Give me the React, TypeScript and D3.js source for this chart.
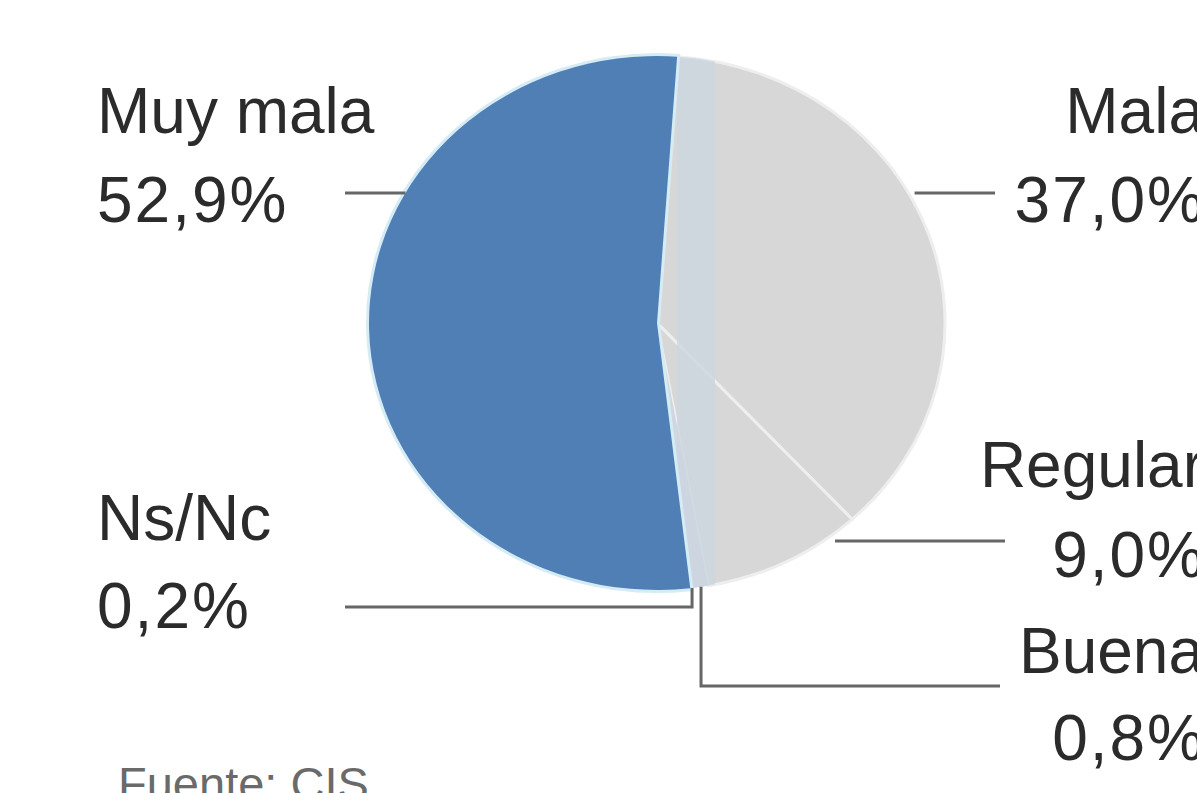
import React from "react";
import * as d3 from "d3";

const categories = ["Mala", "Regular", "Buena", "Ns/Nc", "Muy mala"];
const values = [37.0, 9.0, 0.8, 0.2, 52.9];
const valueLabels = ["37,0%", "9,0%", "0,8%", "0,2%", "52,9%"];
const colors = ["#d7d7d7", "#d7d7d7", "#cfd8e0", "#cfd8e0", "#4f7fb4"];
const source = "Fuente: CIS";

const W = 1197;
const H = 793;
const cx = 657;
const cy = 323;
const rx = 288;
const ry = 267;
const startDeg = 4;

export default function App() {
  const pie = d3
    .pie<number>()
    .sort(null)
    .value((d) => d)
    .startAngle((startDeg * Math.PI) / 180)
    .endAngle((startDeg * Math.PI) / 180 + 2 * Math.PI);
  const arcs = pie(values);
  const arcGen = d3.arc<d3.PieArcDatum<number>>().innerRadius(0).outerRadius(ry);
  const sx = rx / ry;

  const edgeAt = (a: number, k = 1) => [cx + rx * k * Math.sin(a), cy - ry * k * Math.cos(a)];
  const edgeX = (y: number, side: number) =>
    cx + side * rx * Math.sqrt(Math.max(0, 1 - ((y - cy) / ry) ** 2));

  const mid = (i: number) => (arcs[i].startAngle + arcs[i].endAngle) / 2;
  const [buenaX, buenaY] = edgeAt(mid(2));
  const [nsX, nsY] = edgeAt(mid(3));

  const textStyle: React.CSSProperties = {
    fontFamily: "'Liberation Sans', Arial, sans-serif",
    fontSize: 64,
    fill: "#2b2b2b",
  };
  const numStyle: React.CSSProperties = { letterSpacing: 2 };
  const lineColor = "#666";
  const bandX = edgeAt(arcs[0].startAngle)[0];

  return (
    <svg
      width={W}
      height={H}
      style={{ position: "absolute", left: 0, top: 0, background: "#fff" }}
    >
      <defs>
        <clipPath id="pieClip">
          <ellipse cx={cx} cy={cy} rx={rx} ry={ry} />
        </clipPath>
      </defs>
      <g transform={`translate(${cx},${cy}) scale(${sx},1)`}>
        {arcs.map((a, i) => (
          <path
            key={categories[i]}
            d={arcGen(a) || ""}
            fill={colors[i]}
            stroke={i === 0 || i === 1 ? "#eeeeee" : "none"}
            strokeWidth={3}
            vectorEffect="non-scaling-stroke"
          />
        ))}
      </g>
      <g clipPath="url(#pieClip)">
        <rect x={bandX} y={cy - ry} width={715 - bandX} height={2 * ry} fill="#cdd6df" opacity={0.85} />
      </g>
      <g transform={`translate(${cx},${cy}) scale(${sx},1)`}>
        <path
          d={arcGen(arcs[4]) || ""}
          fill={colors[4]}
          stroke="#d6ecf5"
          strokeWidth={6}
          vectorEffect="non-scaling-stroke"
        />
        <path d={arcGen(arcs[4]) || ""} fill={colors[4]} stroke="none" />
      </g>

      <g stroke={lineColor} strokeWidth={3} fill="none">
        <line x1={345} y1={193} x2={edgeX(193, -1)} y2={193} />
        <line x1={edgeX(193, 1) + 6} y1={193} x2={995} y2={193} />
        <line x1={835} y1={541} x2={1005} y2={541} />
        <polyline points={`${nsX},${nsY} ${nsX},607 345,607`} />
        <polyline points={`${buenaX},${buenaY} ${buenaX},686 1000,686`} />
      </g>

      <g style={textStyle}>
        <text x={97} y={133}>{categories[4]}</text>
        <text x={97} y={222} style={numStyle}>{valueLabels[4]}</text>
        <text x={97} y={540}>{categories[3]}</text>
        <text x={97} y={628} style={numStyle}>{valueLabels[3]}</text>
        <text x={1204} y={133} textAnchor="end">{categories[0]}</text>
        <text x={1206} y={222} textAnchor="end" style={numStyle}>{valueLabels[0]}</text>
        <text x={1204} y={487} textAnchor="end">{categories[1]}</text>
        <text x={1206} y={577} textAnchor="end" style={numStyle}>{valueLabels[1]}</text>
        <text x={1204} y={673} textAnchor="end">{categories[2]}</text>
        <text x={1206} y={760} textAnchor="end" style={numStyle}>{valueLabels[2]}</text>
      </g>
      <text
        x={118}
        y={800}
        style={{ fontFamily: "'Liberation Sans', Arial, sans-serif", fontSize: 47, fill: "#6a6a6a" }}
      >
        {source}
      </text>
    </svg>
  );
}
